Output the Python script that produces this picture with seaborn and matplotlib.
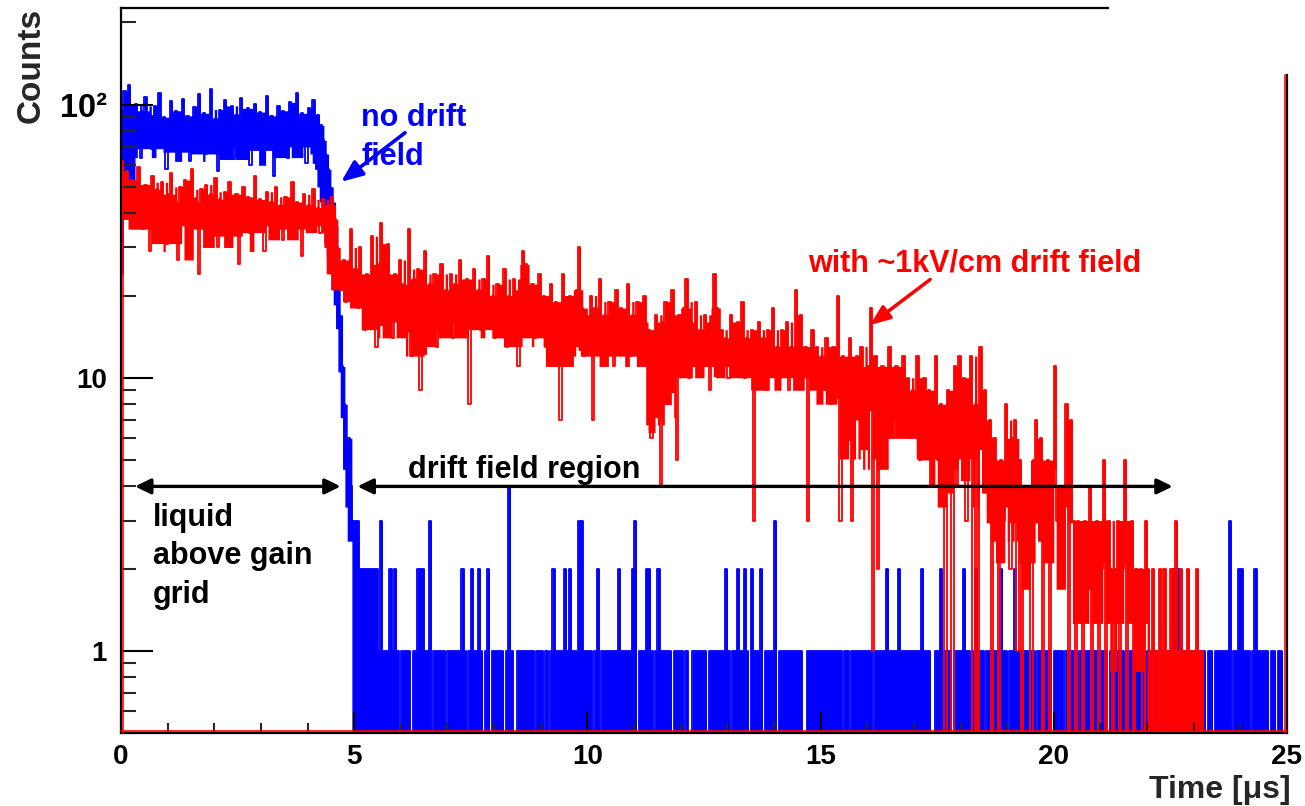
import numpy as np
import pandas as pd
import matplotlib
matplotlib.use("Agg")
import matplotlib.pyplot as plt
import matplotlib.transforms as mtransforms
from matplotlib.lines import Line2D
from matplotlib.ticker import FixedLocator, MultipleLocator, NullFormatter, LogLocator
import seaborn as sns

# ---------------- data (counts per 0.05 us bin) ----------------
bin_width_us = 0.05

blue_0_5 = [24, 112, 96, 118, 84, 72, 101, 88, 64, 95,
            107, 78, 92, 69, 99, 86, 110, 74, 90, 58,
            83, 103, 81, 95, 67, 88, 105, 77, 91, 62,
            86, 98, 72, 109, 84, 93, 66, 80, 114, 75,
            89, 57, 96, 82, 104, 70, 87, 99, 63, 92,
            78, 106, 85, 71, 97, 60, 88, 101, 76, 94,
            68, 83, 108, 79, 91, 55, 86, 99, 73, 95,
            81, 64, 102, 87, 76, 110, 70, 93, 82, 61,
            97, 88, 104, 79, 92, 84, 74, 66, 58, 50,
            44, 36, 25, 17, 11, 8, 6, 6, 4, 3]
blue_5_10 = [3, 3, 2, 2, 2, 2, 2, 2, 2, 2,
             1, 3, 1, 1, 1, 2, 1, 2, 1, 0,
             1, 1, 1, 1, 0, 1, 1, 2, 2, 2,
             1, 1, 3, 0, 1, 1, 1, 1, 1, 0,
             1, 1, 1, 1, 1, 1, 2, 1, 0, 1,
             2, 1, 1, 2, 1, 0, 1, 2, 0, 1,
             1, 1, 1, 1, 0, 1, 4, 1, 0, 0,
             1, 1, 1, 1, 1, 1, 1, 0, 1, 1,
             1, 0, 1, 0, 1, 2, 1, 1, 1, 1,
             2, 1, 2, 1, 1, 1, 3, 3, 1, 1]
blue_10_15 = [1, 1, 0, 1, 2, 0, 1, 1, 1, 1,
              1, 1, 1, 2, 1, 1, 1, 1, 1, 2,
              3, 0, 1, 1, 1, 2, 2, 1, 0, 1,
              2, 1, 1, 1, 1, 1, 0, 1, 1, 1,
              1, 0, 1, 0, 0, 1, 1, 1, 1, 1,
              1, 0, 1, 1, 1, 1, 1, 1, 1, 2,
              1, 0, 1, 1, 2, 1, 1, 2, 1, 0,
              2, 1, 1, 1, 2, 0, 1, 1, 1, 1,
              3, 0, 1, 1, 1, 1, 1, 1, 1, 1,
              1, 1, 0, 0, 1, 1, 1, 1, 1, 1]
blue_15_20 = [1, 1, 1, 1, 1, 1, 1, 1, 1, 0,
              1, 1, 0, 1, 1, 1, 1, 1, 1, 1,
              1, 1, 0, 1, 1, 1, 1, 1, 2, 1,
              1, 1, 1, 2, 1, 1, 1, 1, 1, 1,
              1, 1, 1, 2, 1, 1, 1, 0, 0, 1,
              1, 2, 1, 1, 1, 1, 0, 1, 1, 1,
              1, 2, 1, 1, 0, 1, 2, 1, 1, 1,
              0, 1, 1, 1, 1, 1, 1, 2, 1, 1,
              0, 1, 1, 2, 1, 1, 0, 1, 1, 1,
              1, 1, 0, 1, 1, 1, 1, 1, 1, 0]
blue_20_25 = [1, 1, 1, 1, 0, 1, 1, 1, 1, 1,
              0, 1, 1, 1, 1, 1, 0, 1, 1, 1,
              1, 1, 1, 0, 1, 1, 1, 1, 1, 1,
              0, 1, 1, 1, 1, 1, 1, 1, 1, 0,
              1, 1, 1, 1, 1, 1, 1, 1, 1, 1,
              1, 2, 1, 2, 1, 1, 1, 0, 1, 1,
              0, 1, 1, 0, 1, 0, 1, 1, 0, 1,
              1, 1, 1, 1, 1, 3, 0, 1, 1, 2,
              2, 1, 1, 1, 0, 1, 2, 1, 1, 1,
              1, 1, 0, 1, 1, 0, 1, 1, 0, 0]

red_0_5 = [62, 50, 57, 44, 53, 38, 48, 59, 42, 35,
           51, 46, 29, 55, 43, 49, 37, 52, 45, 31,
           47, 56, 40, 44, 27, 50, 41, 53, 36, 46,
           58, 39, 44, 24, 49, 42, 51, 35, 47, 40,
           54, 30, 45, 41, 48, 33, 52, 43, 38, 47,
           26, 44, 50, 39, 46, 34, 42, 55, 37, 45,
           41, 29, 48, 40, 44, 36, 50, 39, 43, 32,
           46, 41, 37, 52, 35, 44, 40, 28, 47, 39,
           43, 36, 49, 38, 42, 34, 45, 40, 37, 43,
           46, 38, 30, 24, 21, 27, 19, 24, 35, 22]
red_5_10 = [25, 18, 30, 21, 15, 24, 19, 33, 22, 13,
            26, 37, 23, 17, 31, 21, 14, 24, 19, 27,
            22, 16, 20, 35, 12, 23, 19, 25, 9, 21,
            29, 15, 22, 18, 24, 13, 20, 26, 17, 21,
            19, 24, 14, 22, 18, 27, 16, 20, 23, 8,
            19, 25, 17, 21, 15, 23, 18, 28, 16, 20,
            14, 22, 17, 19, 25, 13, 20, 16, 23, 18,
            11, 21, 29, 26, 15, 19, 22, 14, 18, 24,
            16, 20, 13, 17, 22, 15, 19, 11, 7, 24,
            14, 17, 20, 13, 16, 21, 30, 18, 12, 17]
red_10_15 = [16, 20, 7, 18, 15, 23, 12, 17, 14, 19,
             16, 11, 21, 15, 18, 13, 16, 22, 12, 17,
             14, 19, 11, 16, 20, 13, 15, 6, 12, 17,
             14, 4, 16, 19, 13, 15, 21, 11, 5, 17,
             12, 18, 23, 10, 16, 13, 19, 12, 15, 11,
             17, 14, 9, 16, 24, 18, 11, 15, 12, 14,
             10, 17, 13, 11, 16, 12, 19, 10, 14, 12,
             15, 3, 13, 16, 11, 14, 9, 15, 12, 18,
             11, 13, 10, 15, 12, 16, 9, 13, 11, 21,
             12, 17, 10, 13, 3, 12, 15, 10, 13, 11]
red_15_20 = [12, 9, 14, 11, 8, 13, 10, 20, 3, 12,
             9, 11, 14, 3, 10, 12, 8, 13, 10, 7,
             11, 18, 1, 12, 2, 9, 11, 7, 10, 13,
             8, 6, 11, 9, 7, 12, 8, 10, 6, 9,
             7, 12, 5, 8, 10, 6, 9, 4, 7, 12,
             5, 8, 6, 0, 9, 5, 0, 11, 4, 12,
             6, 10, 3, 7, 12, 0, 8, 0, 13, 6,
             9, 5, 7, 0, 6, 4, 0, 5, 3, 8,
             5, 2, 6, 7, 1, 5, 0, 4, 2, 4,
             0, 5, 7, 4, 6, 0, 3, 5, 0, 4]
red_20_25 = [11, 3, 2, 4, 2, 8, 0, 7, 3, 0,
             3, 2, 0, 3, 2, 4, 0, 2, 3, 0,
             2, 5, 0, 3, 2, 0, 2, 3, 0, 2,
             5, 0, 2, 3, 0, 2, 1, 2, 0, 3,
             2, 1, 2, 0, 1, 2, 1, 2, 1, 1,
             2, 1, 3, 1, 2, 1, 1, 2, 1, 1,
             1, 2, 1, 1, 0, 0, 0, 0, 0, 0,
             0, 0, 0, 0, 0, 0, 0, 0, 0, 0,
             0, 0, 0, 0, 0, 0, 0, 0, 0, 0,
             0, 0, 0, 0, 0, 0, 0, 0, 0, 0]

blue_counts = blue_0_5 + blue_5_10 + blue_10_15 + blue_15_20 + blue_20_25
red_counts = red_0_5 + red_5_10 + red_10_15 + red_15_20 + red_20_25

x_ticks = [0, 5, 10, 15, 20, 25]
x_tick_labels = ["0", "5", "10", "15", "20", "25"]
y_ticks = [1, 10, 100]
y_tick_labels = ["1", "10", "10\u00b2"]

BLUE = "#0000ff"
RED = "#ff0000"
AXIS_FLOOR = 0.4                # just below the lower y limit
BLUE_FILL_TO_AXIS_FROM = 4.95   # where the fine-binned original looks solid down to the axis
RED_FILL_TO_AXIS_FROM = 22.0
LOW_WINDOW = 13                 # rendering of the dense look of the very fine original binning
TOP_WINDOW = 5
BAND_MIN_RATIO = 0.42


def step_frame(counts):
    """Histogram outline (ROOT style): rise at first edge, drop at last edge."""
    n = len(counts)
    edges = np.arange(n + 1) * bin_width_us
    t = np.concatenate([[edges[0]], edges[:-1], [edges[-1], edges[-1]]])
    c = np.concatenate([[0], counts, [counts[-1], 0]]).astype(float)
    return pd.DataFrame({"time": t, "counts": c})


def dense_band(counts, fill_to_axis_from):
    """Lower/upper edges mimicking the solid look of a very finely binned histogram."""
    c = pd.Series(counts, dtype=float)
    top = np.maximum(c.values, c.rolling(TOP_WINDOW, center=True, min_periods=1).quantile(
        0.75, interpolation="lower").values)
    low = c.rolling(LOW_WINDOW, center=True, min_periods=1).quantile(
        1.0 / (LOW_WINDOW - 1), interpolation="lower").values
    low = np.maximum(low, BAND_MIN_RATIO * top)
    left = np.arange(len(c)) * bin_width_us
    axis_part = left >= fill_to_axis_from - 1e-9
    low = np.where(axis_part, AXIS_FLOOR, low)
    top = np.where(axis_part, c.values, top)
    low = np.maximum(low, AXIS_FLOOR)
    top = np.maximum(top, low)
    edges = np.arange(len(c) + 1) * bin_width_us
    return edges, np.append(low, low[-1]), np.append(top, top[-1])


sns.set_style("ticks")
plt.rcParams["font.family"] = ["Liberation Sans", "DejaVu Sans"]
plt.rcParams["font.weight"] = "bold"
plt.rcParams["axes.labelweight"] = "bold"
plt.rcParams["axes.axisbelow"] = False

fig = plt.figure(figsize=(13.05, 8.06), dpi=100)
ax = fig.add_axes([121 / 1305, 73 / 806, 1166 / 1305, 725 / 806])

sns.lineplot(data=step_frame(blue_counts), x="time", y="counts", drawstyle="steps-post",
             estimator=None, sort=False, color=BLUE, linewidth=1.3, ax=ax, zorder=2)
sns.lineplot(data=step_frame(red_counts), x="time", y="counts", drawstyle="steps-post",
             estimator=None, sort=False, color=RED, linewidth=1.3, ax=ax, zorder=2.1)

ax.set_yscale("log")

e, lo, up = dense_band(blue_counts, BLUE_FILL_TO_AXIS_FROM)
ax.fill_between(e, lo, up, step="post", color=BLUE, linewidth=0, zorder=1.95)
e, lo, up = dense_band(red_counts, RED_FILL_TO_AXIS_FROM)
ax.fill_between(e, lo, up, step="post", color=RED, linewidth=0, zorder=2.05)

ax.set_xlim(0, 25)
ax.set_ylim(0.5, 226)

# ticks
ax.xaxis.set_major_locator(FixedLocator(x_ticks))
ax.set_xticklabels(x_tick_labels)
ax.xaxis.set_minor_locator(MultipleLocator(1))
ax.yaxis.set_major_locator(FixedLocator(y_ticks))
ax.set_yticklabels(y_tick_labels)
ax.yaxis.set_minor_locator(LogLocator(base=10, subs=np.arange(2, 10)))
ax.yaxis.set_minor_formatter(NullFormatter())
ax.tick_params(axis="x", which="major", direction="in", length=15, width=1.5, pad=8,
               labelsize=20, colors="black")
ax.tick_params(axis="x", which="minor", direction="in", length=7, width=1.5)
ax.tick_params(axis="y", which="major", direction="in", length=23, width=1.5, pad=10,
               labelsize=20, colors="black")
ax.tick_params(axis="y", which="minor", direction="in", length=11, width=1.5)
ax.tick_params(which="both", top=False, right=False)
for lbl in ax.get_yticklabels():
    if lbl.get_text() == "10\u00b2":
        lbl.set_fontsize(23.5)
for lbl in ax.get_xticklabels() + ax.get_yticklabels():
    lbl.set_fontweight("bold")

# frame (partially missing top/right as in the original)
for s in ax.spines.values():
    s.set_linewidth(1.6)
    s.set_color("black")
    s.set_visible(True)
    s.set_zorder(3)
ax.spines["top"].set_bounds(0, 21.16)
ax.spines["right"].set_bounds(0.5, 128)

tr_up = mtransforms.offset_copy(ax.transAxes, fig=fig, x=0, y=1.6, units="dots")
ax.add_line(Line2D([0, 1], [0, 0], transform=tr_up, color=RED, lw=1.2, clip_on=False, zorder=3.1))
tr_left = mtransforms.offset_copy(ax.transData, fig=fig, x=-1.8, y=0, units="dots")
ax.add_line(Line2D([25, 25], [0.5, 128], transform=tr_left, color=RED, lw=1.2, clip_on=False, zorder=3.1))
tr_right = mtransforms.offset_copy(ax.transData, fig=fig, x=1.8, y=0, units="dots")
ax.add_line(Line2D([0, 0], [0.5, red_counts[0]], transform=tr_right, color=RED, lw=1.2,
                   clip_on=False, zorder=3.1))

# axis titles
ax.set_ylabel("Counts", fontsize=24, fontweight="bold", loc="top")
ax.yaxis.set_label_coords(-0.0635, 1.0)
ax.set_xlabel("Time [\u03bcs]", fontsize=23, fontweight="bold", loc="right")
ax.xaxis.set_label_coords(1.0034, -0.058)

# annotations (va="baseline" refers to the last line of multi-line text)
txt_kw = dict(fontsize=22, fontweight="bold", ha="left", va="baseline", zorder=6)
ax.text(5.15, 60.3, "no drift\nfield", color=BLUE, linespacing=1.36, **txt_kw)
ax.text(14.73, 24.4, "with ~1kV/cm drift field", color=RED, **txt_kw)
ax.text(0.68, 1.50, "liquid\nabove gain\ngrid", color="black", linespacing=1.36, **txt_kw)
ax.text(6.15, 4.30, "drift field region", color="black", **txt_kw)

ax.annotate("", xy=(4.72, 52.2), xytext=(6.09, 78.9), zorder=6,
            arrowprops=dict(arrowstyle="-|>,head_length=0.65,head_width=0.27", color=BLUE,
                            lw=2.6, shrinkA=0, shrinkB=0, mutation_scale=20))
ax.annotate("", xy=(16.06, 15.6), xytext=(17.35, 22.9), zorder=6,
            arrowprops=dict(arrowstyle="-|>,head_length=0.6,head_width=0.24", color=RED,
                            lw=2.5, shrinkA=0, shrinkB=0, mutation_scale=20))
for x0, x1 in [(0.30, 4.71), (5.07, 22.55)]:
    ax.annotate("", xy=(x1, 4.0), xytext=(x0, 4.0), zorder=6,
                arrowprops=dict(arrowstyle="<|-|>,head_length=0.47,head_width=0.23", color="black",
                                lw=2.4, shrinkA=0, shrinkB=0, mutation_scale=20))

fig.savefig("out.png", dpi=100)
